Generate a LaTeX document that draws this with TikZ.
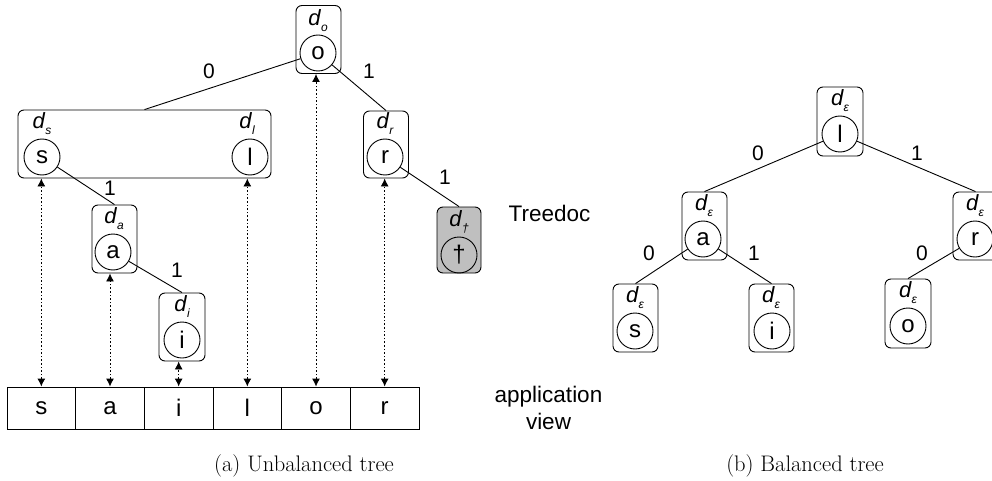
\documentclass[tikz,border=0pt]{standalone}
\usepackage{fontspec}
\setsansfont{Liberation Sans}
\usetikzlibrary{arrows.meta}
\tikzset{
  box/.style={draw, rounded corners=6pt, minimum width=45pt, minimum height=68pt, inner sep=0pt, line width=0.9pt},
  ch/.style={draw, circle, minimum size=36pt, inner sep=0pt, line width=0.9pt, font=\fontsize{24}{24}\selectfont\sffamily},
  dl/.style={inner sep=0pt, font=\fontsize{22}{22}\selectfont\sffamily\itshape},
  el/.style={inner sep=0pt, font=\fontsize{21}{21}\selectfont\sffamily},
  txt/.style={inner sep=0pt, font=\fontsize{22.5}{27}\selectfont\sffamily, align=center},
  captext/.style={inner sep=0pt, font=\fontsize{22.5}{22.5}\selectfont},
  cell/.style={draw, minimum width=68.67pt, minimum height=42pt, inner sep=0pt, line width=0.9pt, font=\fontsize{24}{24}\selectfont\sffamily},
  conn/.style={line width=0.9pt},
  ptr/.style={line width=0.9pt, dash pattern=on 1.6pt off 2pt, {Latex[length=8pt,width=8pt]}-{Latex[length=8pt,width=8pt]}}
}
\newcommand{\dsub}[1]{d\kern0.5pt\raisebox{-6pt}{\fontsize{12}{12}\selectfont #1}}
\begin{document}
\begin{tikzpicture}[x=1pt,y=-1pt]
\useasboundingbox (0,0) rectangle (992,481);

% ---------- (a) unbalanced tree ----------
\node[box] (obox) at (318.5,39.5) {};
\node[ch] (oc) at (318,53) {o};
\node[dl] (od) at (318,21) {\dsub{o}};

\node[box, minimum width=253pt] (bigbox) at (144.5,144) {};
\node[ch] (sc) at (42,157) {s};
\node[dl] (sd) at (42,124) {\dsub{s}};
\node[ch] (lc) at (250,157) {l};
\node[dl] (ld) at (247,124) {\dsub{l}};

\node[box, minimum height=67pt] (rbox) at (386,144.5) {};
\node[ch] (rc) at (385,157) {r};
\node[dl] (rd) at (385,124) {\dsub{r}};

\node[box, fill=black!25, minimum width=44pt, minimum height=66pt] (dbox) at (459,240) {};
\node[ch] (dc) at (459,255) {†};
\node[dl] (dd) at (459,222) {\dsub{†}};

\node[box] (abox) at (114.5,239) {};
\node[ch] (ac) at (113,252) {a};
\node[dl] (ad) at (114,219) {\dsub{a}};

\node[box, minimum width=46pt] (ibox) at (182,327) {};
\node[ch] (ic) at (182,340) {i};
\node[dl] (id) at (182,307) {\dsub{i}};

\draw[conn] (oc) -- (bigbox.north);
\draw[conn] (oc) -- (rbox.north);
\draw[conn] (rc) -- (dbox.north);
\draw[conn] (sc) -- (abox.north);
\draw[conn] (ac) -- (ibox.north);

\node[el] (e1) at (209,71) {0};
\node[el] (e2) at (369,71) {1};
\node[el] (e3) at (110,188) {1};
\node[el] (e4) at (177,270) {1};
\node[el] (e5) at (445,177) {1};

% application view array
\node[cell] (c1) at (41.33,408) {s};
\node[cell] (c2) at (110,408) {a};
\node[cell] (c3) at (178.67,408) {i};
\node[cell] (c4) at (247.33,408) {l};
\node[cell] (c5) at (316,408) {o};
\node[cell] (c6) at (384.67,408) {r};

\draw[ptr] (c1.north) -- (c1.north |- bigbox.south);
\draw[ptr] (c2.north) -- (c2.north |- abox.south);
\draw[ptr] (c3.north) -- (c3.north |- ibox.south);
\draw[ptr] (c4.north) -- (c4.north |- bigbox.south);
\draw[ptr] (c5.north) -- (c5.north |- obox.south);
\draw[ptr] (c6.north) -- (c6.north |- rbox.south);

\node[txt] (treedoc) at (549.5,213) {Treedoc};
\node[txt] (appview) at (548.5,408) {application\\view};

\node[captext] (capa) at (304,466) {(a) Unbalanced tree};

% ---------- (b) balanced tree ----------
\node[box, minimum width=46pt, minimum height=69pt] (Lbox) at (840,121.5) {};
\node[ch] (Lc) at (840,134) {l};
\node[dl] (Ld) at (840,101) {\dsub{ε}};

\node[box] (Abox) at (704.5,226) {};
\node[ch] (Ac) at (703,239) {a};
\node[dl] (Ad) at (704,206) {\dsub{ε}};

\node[box] (Rbox) at (975.5,226) {};
\node[ch] (Rc) at (975,239) {r};
\node[dl] (Rd) at (975,206) {\dsub{ε}};

\node[box] (Sbox) at (635.5,318) {};
\node[ch] (Sc) at (635,331) {s};
\node[dl] (Sd) at (635,298) {\dsub{ε}};

\node[box] (Ibox) at (771.5,318) {};
\node[ch] (Ic) at (772,331) {i};
\node[dl] (Id) at (771,298) {\dsub{ε}};

\node[box, minimum width=46pt, minimum height=69pt] (Obox) at (908,313.5) {};
\node[ch] (Oc) at (908,326) {o};
\node[dl] (Od) at (908,293) {\dsub{ε}};

\draw[conn] (Lc) -- (Abox.north);
\draw[conn] (Lc) -- (Rbox.north);
\draw[conn] (Ac) -- (Sbox.north);
\draw[conn] (Ac) -- (Ibox.north);
\draw[conn] (Rc) -- (Obox.north);

\node[el] (f1) at (758,153) {0};
\node[el] (f2) at (917,153) {1};
\node[el] (f3) at (649,253) {0};
\node[el] (f4) at (754,253) {1};
\node[el] (f5) at (922,253) {0};

\node[captext] (capb) at (805,466) {(b) Balanced tree};
\end{tikzpicture}
\end{document}
